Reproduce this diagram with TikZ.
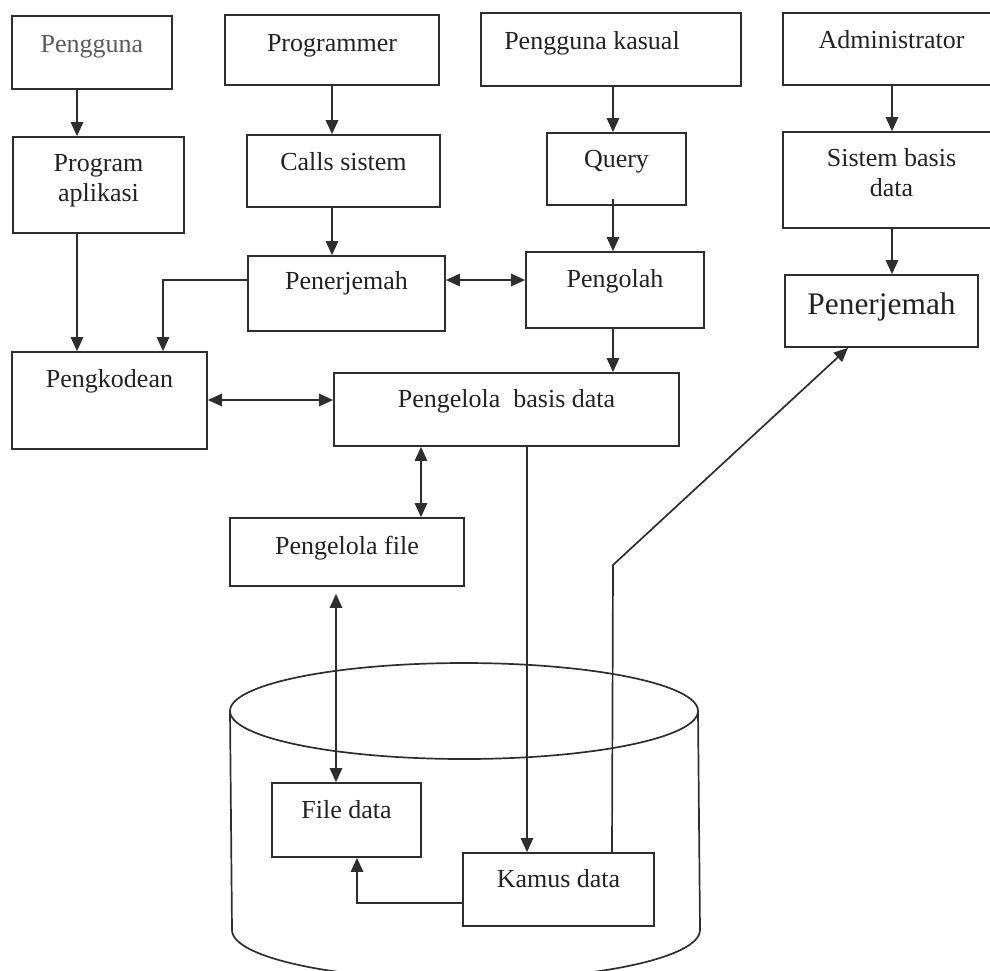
\documentclass[tikz,border=0pt]{standalone}
\usepackage{fontspec}
\setmainfont{Liberation Serif}
\usetikzlibrary{arrows.meta,fit,calc}
\definecolor{ink}{HTML}{2E2E2E}
\definecolor{txt}{HTML}{222222}
\definecolor{soft}{HTML}{5A5A5A}
\begin{document}
\begin{tikzpicture}[x=0.5pt,y=-0.5pt,
  box/.style={draw=ink, line width=0.85pt, inner sep=0pt, fit={#1}},
  lbl/.style={anchor=base, inner sep=0pt, text=txt, align=center,
              font=\fontsize{13}{15}\selectfont},
  tip/.tip={Triangle[length=7pt,width=6.2pt]},
  conn/.style={draw=ink, line width=0.85pt, -tip},
  both/.style={draw=ink, line width=0.85pt, tip-tip},
  line/.style={draw=ink, line width=0.85pt}]
\useasboundingbox (0,0) rectangle (990,970);
\clip (0,0) rectangle (990,970);

% database cylinder
\coordinate (cyltop) at (464,711);
\draw[line] (cyltop) ellipse [x radius=117pt, y radius=24pt];
\draw[line] (230,711) -- (232,930)
  arc[start angle=180, end angle=360, x radius=117pt, y radius=25pt]
  -- (698,711);

% boxes
\node[box={(12,16)(172,89)}] (pengguna) {};
\node[box={(225,15)(439,85)}] (programmer) {};
\node[box={(481,13)(741,86)}] (kasual) {};
\node[box={(783,13)(1000,85)}] (admin) {};
\node[box={(13,137)(184,233)}] (aplikasi) {};
\node[box={(247,135)(440,207)}] (calls) {};
\node[box={(547,133)(686,205)}] (query) {};
\node[box={(783,132)(1000,228)}] (sistem) {};
\node[box={(248,256)(445,331)}] (penerjemah) {};
\node[box={(526,252)(704,328)}] (pengolah) {};
\node[box={(785,275)(978,347)}] (penerjemahb) {};
\node[box={(12,352)(207,449)}] (pengkodean) {};
\node[box={(334,373)(679,446)}] (pbd) {};
\node[box={(230,518)(464,586)}] (pfile) {};
\node[box={(272,783)(421,857)}] (filedata) {};
\node[box={(463,853)(654,926)}] (kamus) {};

% labels (base of the last line is the anchor)
\node[lbl, text=soft] (lpengguna) at ($(pengguna.north)+(0,37)$) {Pengguna};
\node[lbl] (lprogrammer) at ($(programmer.north)+(0,37)$) {Programmer};
\node[lbl] (lkasual) at ($(kasual.north)+(-19,37)$) {Pengguna kasual};
\node[lbl] (ladmin) at ($(admin.north)+(0,36)$) {Administrator};
\node[lbl] (laplikasi) at ($(aplikasi.north)+(0,65)$) {Program\\aplikasi};
\node[lbl] (lcalls) at ($(calls.north)+(0,36)$) {Calls sistem};
\node[lbl] (lquery) at ($(query.north)+(0,35)$) {Query};
\node[lbl] (lsistem) at ($(sistem.north)+(0,65)$) {Sistem basis\\data};
\node[lbl] (lpenerjemah) at ($(penerjemah.north)+(0,34)$) {Penerjemah};
\node[lbl] (lpengolah) at ($(pengolah.north)+(0,36)$) {Pengolah};
\node[lbl, font=\fontsize{15.7}{18}\selectfont] (lpenerjemahb)
  at ($(penerjemahb.north)+(0,40)$) {Penerjemah};
\node[lbl] (lpengkodean) at ($(pengkodean.north)+(0,36)$) {Pengkodean};
\node[lbl] (lpbd) at ($(pbd.north)+(0,35)$) {Pengelola\ \ basis data};
\node[lbl] (lpfile) at ($(pfile.north)+(0,37)$) {Pengelola file};
\node[lbl] (lfiledata) at ($(filedata.north)+(0,36)$) {File data};
\node[lbl] (lkamus) at ($(kamus.north)+(0,35)$) {Kamus data};

% connector guide positions
\coordinate (x77) at (77,0);
\coordinate (x163) at (163,0);
\coordinate (x332) at (332,0);
\coordinate (x336) at (336,0);
\coordinate (x357) at (357,0);
\coordinate (x421) at (421,0);
\coordinate (x527) at (527,0);
\coordinate (x612) at (612,0);
\coordinate (x613) at (613,0);
\coordinate (x848) at (848,0);
\coordinate (x892) at (892,0);
\coordinate (y280) at (0,280);
\coordinate (y400) at (0,400);
\coordinate (y903) at (0,903);
\coordinate (bend) at (613,565);

% connectors
\draw[conn] (pengguna.south -| x77) -- (aplikasi.north -| x77);
\draw[conn] (programmer.south -| x332) -- (calls.north -| x332);
\draw[conn] (calls.south -| x332) -- (penerjemah.north -| x332);
\draw[conn] (kasual.south -| x613) -- (query.north -| x613);
\draw[conn] ($(query.south -| x613)+(0,-7)$) -- (pengolah.north -| x613);
\draw[conn] (admin.south -| x892) -- (sistem.north -| x892);
\draw[conn] (sistem.south -| x892) -- (penerjemahb.north -| x892);
\draw[both] (penerjemah.east |- y280) -- (pengolah.west |- y280);
\draw[conn] (penerjemah.west |- y280) -| (pengkodean.north -| x163);
\draw[conn] (aplikasi.south -| x77) -- (pengkodean.north -| x77);
\draw[both] (pengkodean.east |- y400) -- (pbd.west |- y400);
\draw[conn] (pengolah.south -| x613) -- (pbd.north -| x613);
\draw[both] (pbd.south -| x421) -- (pfile.north -| x421);
\draw[both, shorten <=3.5pt] (pfile.south -| x336) -- (filedata.north -| x336);
\draw[conn] (pbd.south -| x527) -- (kamus.north -| x527);
\draw[conn] (kamus.west |- y903) -| (filedata.south -| x357);
\draw[conn] (kamus.north -| x612) -- (bend) -- (penerjemahb.south -| x848);
\end{tikzpicture}
\end{document}
